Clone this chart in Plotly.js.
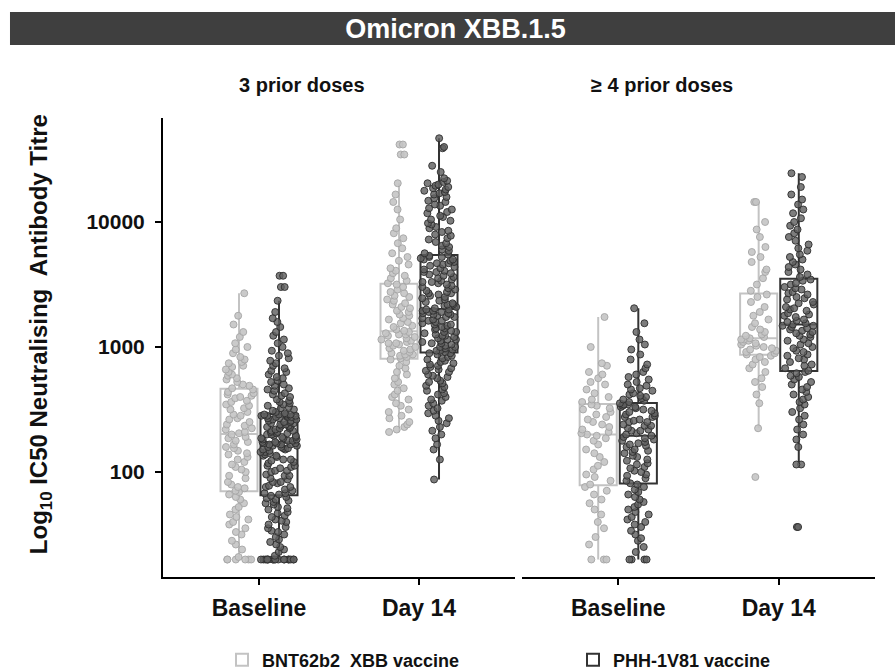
<!DOCTYPE html>
<html>
<head>
<meta charset="utf-8">
<script src="https://cdn.plot.ly/plotly-3.0.1.min.js"></script>
<style>html,body{margin:0;padding:0;background:#fff;}#chart{width:895px;height:671px;}</style>
</head>
<body>
<div id="chart"></div>
<script>
// Log10 IC50 neutralising antibody titres, Omicron XBB.1.5
const categories = ['Baseline', 'Day 14'];
const panelTitles = ['3 prior doses', '\u2265 4 prior doses'];
const seriesNames = ['BNT62b2  XBB vaccine', 'PHH-1V81 vaccine'];
const yTickValues = [2, 3, 4];
const yTickLabels = ['100', '1000', '10000'];

// 3 prior doses
const bnt3Baseline = [1.30,1.30,1.30,1.30,1.30,1.30,1.32,1.38,1.42,1.45,1.50,1.52,1.55,1.58,1.60,1.62,1.64,1.66,1.70,1.72,1.75,1.78,1.80,1.82,1.84,
 1.85,1.87,1.88,1.90,1.92,1.95,1.97,2.00,2.02,2.04,2.06,2.08,2.10,2.12,2.14,2.15,2.17,2.19,2.20,2.22,2.24,2.25,2.27,2.28,2.30,
 2.31,2.32,2.34,2.35,2.37,2.38,2.40,2.42,2.43,2.45,2.46,2.48,2.50,2.51,2.53,2.54,2.56,2.57,2.59,2.60,2.61,2.62,2.63,2.64,2.66,
 2.67,2.69,2.70,2.72,2.74,2.75,2.77,2.78,2.80,2.82,2.84,2.85,2.87,2.88,2.90,2.92,2.95,2.98,3.00,3.03,3.08,3.12,3.18,3.25,3.43];
const phh3Baseline = [1.30,1.30,1.30,1.30,1.30,1.30,1.30,1.30,1.30,1.30,1.30,1.30,1.30,1.30,1.30,1.30,1.30,1.30,
 1.33,1.36,1.38,1.40,1.42,1.44,1.46,1.48,1.50,1.52,1.53,1.55,1.56,1.58,1.60,1.61,1.62,1.64,1.65,1.67,1.68,1.70,1.71,1.72,1.74,1.75,1.76,1.77,1.78,1.79,1.80,1.81,
 1.82,1.83,1.83,1.85,1.86,1.88,1.88,1.89,1.91,1.92,1.92,1.94,1.95,1.97,1.97,1.98,2.00,2.01,2.01,2.03,
 2.04,2.05,2.05,2.07,2.08,2.09,2.10,2.10,2.12,2.13,2.13,2.14,2.15,2.16,2.16,2.17,2.18,2.18,2.19,2.19,
 2.20,2.20,2.21,2.21,2.22,2.22,2.22,2.23,2.23,2.23,
 2.24,2.24,2.25,2.26,2.26,2.27,2.27,2.28,2.29,2.29,2.30,2.30,2.31,2.32,2.32,2.33,2.33,2.34,2.35,2.35,
 2.36,2.36,2.37,2.38,2.38,2.39,2.39,2.40,2.40,2.41,2.42,2.42,2.43,2.43,2.44,2.44,2.44,2.45,2.45,2.45,
 2.45,2.46,2.46,2.46,2.46,2.41,2.37,2.31,2.28,2.25,
 2.47,2.48,2.49,2.50,2.51,2.52,2.53,2.54,2.55,2.56,2.57,2.58,2.60,2.61,2.62,2.63,2.65,2.66,2.67,2.69,
 2.70,2.72,2.73,2.75,2.76,2.78,2.80,2.81,2.83,2.85,2.87,2.89,2.91,2.93,2.95,2.97,3.00,3.03,3.06,3.09,
 3.12,3.16,3.20,3.23,3.28,3.37,3.48,3.48,3.57,3.57];
const bnt3Day14 = [2.32,2.34,2.36,2.38,2.40,2.43,2.45,2.48,2.50,2.53,2.55,2.58,2.60,2.62,2.65,2.67,2.70,2.72,2.75,2.78,2.80,2.83,2.85,2.88,2.90,
 2.91,2.92,2.93,2.94,2.94,2.95,2.96,2.97,2.98,2.99,3.00,3.01,3.02,3.03,3.03,3.04,3.05,3.06,3.07,3.08,3.09,3.10,3.10,3.11,3.12,
 3.13,3.14,3.16,3.17,3.19,3.20,3.22,3.23,3.25,3.26,3.28,3.29,3.31,3.32,3.34,3.35,3.37,3.38,3.40,3.41,3.43,3.44,3.46,3.48,3.50,
 3.51,3.53,3.55,3.57,3.59,3.61,3.63,3.66,3.69,3.72,3.75,3.79,3.83,3.87,3.91,3.95,4.02,4.10,4.16,4.22,4.31,4.54,4.54,4.62,4.62];
const phh3Day14 = [1.94,2.10,2.18,2.22,2.27,2.30,2.33,2.36,2.39,2.41,2.43,2.45,2.47,2.49,2.51,2.53,2.55,2.57,2.58,2.60,
 2.62,2.63,2.65,2.66,2.68,2.69,2.71,2.72,2.73,2.75,2.76,2.77,2.78,2.80,2.81,2.82,2.83,2.84,2.85,2.86,
 2.87,2.88,2.89,2.90,2.91,2.92,2.93,2.94,2.95,2.95,
 2.96,2.97,2.97,2.98,2.99,3.00,3.00,3.01,3.02,3.03,3.03,3.04,3.05,3.06,3.06,3.07,3.08,3.09,3.09,3.10,
 3.11,3.12,3.12,3.13,3.14,3.15,3.15,3.16,3.17,3.18,3.18,3.19,3.20,3.21,3.21,3.22,3.23,3.24,3.24,3.25,
 3.26,3.26,3.27,3.27,3.28,3.28,3.29,3.29,3.30,3.30,
 3.31,3.32,3.33,3.34,3.34,3.35,3.36,3.37,3.38,3.39,3.40,3.41,3.42,3.43,3.43,3.44,3.45,3.46,3.47,3.48,
 3.49,3.50,3.51,3.52,3.52,3.53,3.54,3.55,3.56,3.57,3.58,3.59,3.60,3.60,3.61,3.62,3.63,3.64,3.65,3.66,
 3.67,3.67,3.68,3.69,3.70,3.70,3.71,3.72,3.72,3.73,
 3.74,3.75,3.77,3.78,3.80,3.81,3.83,3.84,3.86,3.87,3.89,3.90,3.92,3.93,3.95,3.96,3.98,3.99,4.01,4.02,
 4.04,4.05,4.07,4.08,4.10,4.11,4.13,4.14,4.16,4.17,4.19,4.20,4.22,4.23,4.24,4.25,4.26,4.27,4.28,4.29,
 4.30,4.31,4.32,4.33,4.35,4.40,4.45,4.59,4.60,4.67];

// >= 4 prior doses
const bnt4Baseline = [1.30,1.30,1.30,1.42,1.48,1.55,1.60,1.66,1.70,1.75,1.78,1.82,1.85,1.88,
 1.90,
 1.93,1.96,1.98,2.02,2.05,2.08,2.12,2.15,2.18,2.22,2.25,2.27,2.29,
 2.30,
 2.31,2.32,2.34,2.36,2.38,2.40,2.42,2.44,2.46,2.48,2.50,2.51,2.53,
 2.54,
 2.56,2.58,2.60,2.63,2.66,2.70,2.72,2.75,2.78,2.80,2.85,2.87,3.00,3.24];
const phh4Baseline = [1.30,1.30,1.30,1.30,1.36,1.40,1.45,1.47,1.50,1.53,1.56,1.58,1.60,1.62,1.64,1.66,1.68,1.70,1.72,1.74,1.76,1.78,1.80,1.82,1.84,1.86,1.88,1.90,
 1.91,
 1.93,1.95,1.97,1.98,2.00,2.01,2.03,2.04,2.06,2.07,2.09,2.10,2.12,2.13,2.15,2.16,2.17,2.18,2.20,2.21,2.22,2.23,2.24,2.25,2.26,2.27,2.28,
 2.29,
 2.30,2.31,2.33,2.33,2.34,2.35,2.37,2.37,2.38,2.40,2.40,2.41,2.42,2.44,2.44,2.45,2.46,2.47,2.48,2.49,2.50,2.51,2.52,2.52,2.53,2.54,2.54,
 2.55,
 2.56,2.57,2.58,2.59,2.60,2.61,2.62,2.63,2.65,2.66,2.67,2.69,2.70,2.72,2.74,2.76,2.78,2.80,2.83,2.86,2.90,2.94,2.98,3.02,3.06,3.12,3.19,3.31];
const bnt4Day14 = [1.96,2.35,2.55,2.62,2.68,2.72,2.75,2.80,2.83,2.86,2.88,2.90,2.92,2.93,
 2.94,
 2.95,2.96,2.97,2.98,2.99,3.00,3.01,3.02,3.03,3.04,3.05,3.06,3.06,
 3.07,
 3.08,3.09,3.10,3.12,3.14,3.16,3.19,3.22,3.25,3.28,3.32,3.36,3.40,
 3.42,
 3.45,3.50,3.55,3.60,3.62,3.68,3.72,3.76,3.80,3.88,3.94,4.00,4.16,4.16];
const phh4Day14 = [1.56,1.56,2.06,2.06,2.20,2.26,2.30,2.34,2.38,2.42,2.45,2.48,2.51,2.54,2.56,2.58,2.60,2.62,2.64,2.66,2.68,2.70,2.72,2.74,2.76,2.77,2.79,2.80,
 2.81,
 2.83,2.85,2.86,2.88,2.90,2.91,2.93,2.94,2.96,2.97,2.99,3.00,3.02,3.03,3.05,3.06,3.08,3.09,3.10,3.11,3.12,3.13,3.14,3.15,3.16,3.17,3.17,
 3.18,
 3.19,3.20,3.21,3.22,3.24,3.25,3.26,3.27,3.29,3.30,3.31,3.32,3.34,3.35,3.36,3.38,3.39,3.40,3.42,3.43,3.44,3.46,3.47,3.48,3.50,3.51,3.53,
 3.54,
 3.56,3.58,3.60,3.62,3.64,3.66,3.68,3.70,3.72,3.74,3.77,3.79,3.82,3.85,3.88,3.91,3.94,3.97,4.00,4.03,4.07,4.10,4.14,4.18,4.22,4.28,4.36,4.39];

const FONT = 'Liberation Sans, Arial, sans-serif';
const lightStyle = {
  marker: {size: 7, color: 'rgba(196,196,196,0.9)', line: {color: 'rgba(165,165,165,0.9)', width: 1}},
  line: {color: '#c3c3c3', width: 2}
};
const darkStyle = {
  marker: {size: 7, color: 'rgba(96,96,96,0.82)', line: {color: 'rgba(45,45,45,0.9)', width: 1}},
  line: {color: '#333333', width: 2}
};

function boxTrace(name, base, day14, style, xaxis, panel, group, legendId, showlegend) {
  return {
    type: 'box', name: name, legend: legendId, legendgroup: group, showlegend: showlegend,
    alignmentgroup: panel, offsetgroup: group,
    x: base.map(() => categories[0]).concat(day14.map(() => categories[1])),
    y: base.concat(day14),
    xaxis: xaxis, yaxis: 'y',
    boxpoints: 'all', jitter: 1, pointpos: 0,
    marker: style.marker, line: style.line,
    fillcolor: 'rgba(255,255,255,0)', whiskerwidth: 0,
    hoverinfo: 'skip'
  };
}

const data = [
  boxTrace(seriesNames[0], bnt3Baseline, bnt3Day14, lightStyle, 'x', 'p3', 'bnt', 'legend', true),
  boxTrace(seriesNames[1], phh3Baseline, phh3Day14, darkStyle, 'x', 'p3', 'phh', 'legend2', true),
  boxTrace(seriesNames[0], bnt4Baseline, bnt4Day14, lightStyle, 'x2', 'p4', 'bnt', 'legend', false),
  boxTrace(seriesNames[1], phh4Baseline, phh4Day14, darkStyle, 'x2', 'p4', 'phh', 'legend2', false)
];

const xCommon = {
  type: 'category', categoryorder: 'array', categoryarray: categories,
  range: [-0.6, 1.6], showline: true, linewidth: 2, linecolor: '#000',
  ticks: 'outside', ticklen: 6, tickwidth: 2, tickcolor: '#000', ticklabelstandoff: 3,
  showgrid: false, zeroline: false, anchor: 'y', fixedrange: true, automargin: false,
  tickfont: {family: FONT, size: 23, color: '#111', weight: 'bold'}
};

const legendCommon = {
  orientation: 'h', xanchor: 'left', yanchor: 'middle', y: -0.1808,
  font: {family: FONT, size: 18, color: '#111', weight: 'bold'},
  itemwidth: 30, bgcolor: 'rgba(0,0,0,0)'
};

const layout = {
  width: 895, height: 671,
  margin: {l: 163, r: 20, t: 118, b: 94, autoexpand: false},
  paper_bgcolor: '#ffffff', plot_bgcolor: '#ffffff',
  boxmode: 'group', boxgap: 0.5, boxgroupgap: 0.075,
  title: {text: 'Omicron XBB.1.5', x: 0.509, xanchor: 'center', y: 0.9575, yanchor: 'middle',
          font: {family: FONT, size: 27, color: '#ffffff', weight: 'bold'}},
  xaxis: Object.assign({}, xCommon, {domain: [0, 0.4944]}),
  xaxis2: Object.assign({}, xCommon, {domain: [0.5042, 1]}),
  yaxis: {
    range: [1.16, 4.832], tickmode: 'array', tickvals: yTickValues, ticktext: yTickLabels,
    showline: true, linewidth: 2, linecolor: '#000', ticks: 'outside', ticklen: 6, tickwidth: 2,
    tickcolor: '#000', showgrid: false, zeroline: false, fixedrange: true, automargin: false,
    ticklabelstandoff: 6,
    tickfont: {family: FONT, size: 21, color: '#111', weight: 'bold'}
  },
  shapes: [{type: 'rect', xref: 'paper', yref: 'paper', x0: -0.2149, x1: 1.03, y0: 1.159, y1: 1.231,
            fillcolor: '#3f3f3f', line: {width: 0}, layer: 'below'}],
  annotations: [
    {text: 'Log<sub>10</sub> IC50 Neutralising  Antibody Titre', xref: 'paper', yref: 'paper',
     x: -0.1728, y: 0.529, textangle: -90, showarrow: false, xanchor: 'center', yanchor: 'middle',
     font: {family: FONT, size: 24, color: '#111', weight: 'bold'}},
    {text: panelTitles[0], xref: 'paper', yref: 'paper', x: 0.195, y: 1.072, showarrow: false,
     xanchor: 'center', yanchor: 'middle', font: {family: FONT, size: 20, color: '#111', weight: 'bold'}},
    {text: panelTitles[1], xref: 'paper', yref: 'paper', x: 0.701, y: 1.072, showarrow: false,
     xanchor: 'center', yanchor: 'middle', font: {family: FONT, size: 20, color: '#111', weight: 'bold'}}
  ],
  showlegend: true,
  legend: Object.assign({}, legendCommon, {x: (222 - 163) / 712}),
  legend2: Object.assign({}, legendCommon, {x: (573 - 163) / 712}),
  hovermode: false
};

Plotly.newPlot('chart', data, layout, {staticPlot: true, displayModeBar: false});
</script>
</body>
</html>
